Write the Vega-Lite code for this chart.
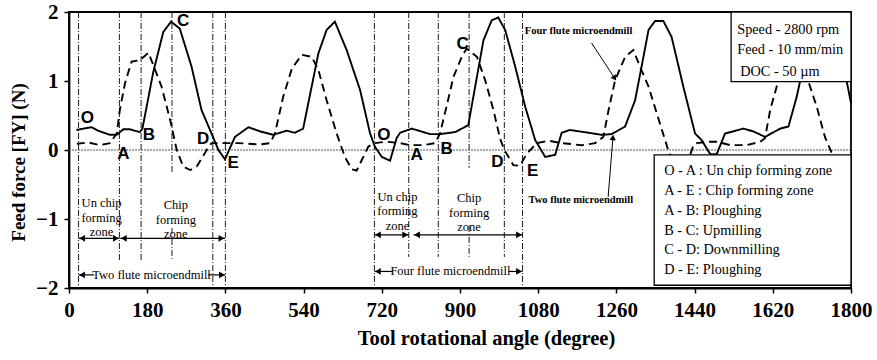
{
"$schema": "https://vega.github.io/schema/vega-lite/v6.json",
"width": 782, "height": 276,
"autosize": {"type": "none"},
"padding": {"left": 69, "top": 12, "right": 26, "bottom": 72},
"background": "white",
"config": {"font": "Liberation Serif", "view": {"stroke": "black", "strokeWidth": 1.8}},
"datasets": {
"curves": [
{"angle":17,"force":0.29,"tool":"Two flute"},{"angle":33,"force":0.31,"tool":"Two flute"},{"angle":52,"force":0.33,"tool":"Two flute"},{"angle":67,"force":0.28,"tool":"Two flute"},{"angle":94,"force":0.22,"tool":"Two flute"},{"angle":110,"force":0.22,"tool":"Two flute"},{"angle":125,"force":0.30,"tool":"Two flute"},{"angle":140,"force":0.30,"tool":"Two flute"},{"angle":163,"force":0.26,"tool":"Two flute"},{"angle":169,"force":0.31,"tool":"Two flute"},{"angle":194,"force":1.13,"tool":"Two flute"},{"angle":217,"force":1.71,"tool":"Two flute"},{"angle":235,"force":1.86,"tool":"Two flute"},{"angle":255,"force":1.76,"tool":"Two flute"},{"angle":282,"force":1.21,"tool":"Two flute"},{"angle":305,"force":0.58,"tool":"Two flute"},{"angle":328,"force":0.24,"tool":"Two flute"},{"angle":344,"force":0.0,"tool":"Two flute"},{"angle":359,"force":-0.135,"tool":"Two flute"},{"angle":382,"force":0.19,"tool":"Two flute"},{"angle":413,"force":0.33,"tool":"Two flute"},{"angle":440,"force":0.27,"tool":"Two flute"},{"angle":470,"force":0.22,"tool":"Two flute"},{"angle":501,"force":0.28,"tool":"Two flute"},{"angle":520,"force":0.25,"tool":"Two flute"},{"angle":539,"force":0.31,"tool":"Two flute"},{"angle":574,"force":1.40,"tool":"Two flute"},{"angle":593,"force":1.74,"tool":"Two flute"},{"angle":612,"force":1.86,"tool":"Two flute"},{"angle":639,"force":1.45,"tool":"Two flute"},{"angle":670,"force":0.87,"tool":"Two flute"},{"angle":693,"force":0.24,"tool":"Two flute"},{"angle":704,"force":0.05,"tool":"Two flute"},{"angle":720,"force":-0.1,"tool":"Two flute"},{"angle":739,"force":-0.155,"tool":"Two flute"},{"angle":754,"force":0.17,"tool":"Two flute"},{"angle":762,"force":0.25,"tool":"Two flute"},{"angle":789,"force":0.31,"tool":"Two flute"},{"angle":831,"force":0.23,"tool":"Two flute"},{"angle":854,"force":0.23,"tool":"Two flute"},{"angle":889,"force":0.26,"tool":"Two flute"},{"angle":919,"force":0.36,"tool":"Two flute"},{"angle":935,"force":0.92,"tool":"Two flute"},{"angle":954,"force":1.59,"tool":"Two flute"},{"angle":973,"force":1.88,"tool":"Two flute"},{"angle":988,"force":1.92,"tool":"Two flute"},{"angle":1004,"force":1.74,"tool":"Two flute"},{"angle":1027,"force":1.21,"tool":"Two flute"},{"angle":1050,"force":0.63,"tool":"Two flute"},{"angle":1073,"force":0.145,"tool":"Two flute"},{"angle":1096,"force":-0.1,"tool":"Two flute"},{"angle":1119,"force":-0.07,"tool":"Two flute"},{"angle":1134,"force":0.25,"tool":"Two flute"},{"angle":1153,"force":0.29,"tool":"Two flute"},{"angle":1196,"force":0.25,"tool":"Two flute"},{"angle":1226,"force":0.22,"tool":"Two flute"},{"angle":1249,"force":0.23,"tool":"Two flute"},{"angle":1280,"force":0.34,"tool":"Two flute"},{"angle":1303,"force":0.72,"tool":"Two flute"},{"angle":1318,"force":1.21,"tool":"Two flute"},{"angle":1334,"force":1.74,"tool":"Two flute"},{"angle":1349,"force":1.87,"tool":"Two flute"},{"angle":1368,"force":1.87,"tool":"Two flute"},{"angle":1387,"force":1.64,"tool":"Two flute"},{"angle":1414,"force":0.92,"tool":"Two flute"},{"angle":1441,"force":0.24,"tool":"Two flute"},{"angle":1456,"force":0.145,"tool":"Two flute"},{"angle":1476,"force":-0.06,"tool":"Two flute"},{"angle":1491,"force":-0.06,"tool":"Two flute"},{"angle":1510,"force":0.24,"tool":"Two flute"},{"angle":1529,"force":0.27,"tool":"Two flute"},{"angle":1552,"force":0.31,"tool":"Two flute"},{"angle":1575,"force":0.27,"tool":"Two flute"},{"angle":1602,"force":0.19,"tool":"Two flute"},{"angle":1637,"force":0.31,"tool":"Two flute"},{"angle":1656,"force":0.34,"tool":"Two flute"},{"angle":1675,"force":0.77,"tool":"Two flute"},{"angle":1700,"force":1.5,"tool":"Two flute"},{"angle":1725,"force":1.85,"tool":"Two flute"},{"angle":1750,"force":1.85,"tool":"Two flute"},{"angle":1772,"force":1.45,"tool":"Two flute"},{"angle":1790,"force":1.0,"tool":"Two flute"},{"angle":1800,"force":0.68,"tool":"Two flute"},
{"angle":18,"force":0.09,"tool":"Four flute"},{"angle":44,"force":0.11,"tool":"Four flute"},{"angle":71,"force":0.07,"tool":"Four flute"},{"angle":94,"force":0.10,"tool":"Four flute"},{"angle":110,"force":0.24,"tool":"Four flute"},{"angle":117,"force":0.58,"tool":"Four flute"},{"angle":129,"force":0.97,"tool":"Four flute"},{"angle":144,"force":1.28,"tool":"Four flute"},{"angle":163,"force":1.30,"tool":"Four flute"},{"angle":183,"force":1.41,"tool":"Four flute"},{"angle":194,"force":1.23,"tool":"Four flute"},{"angle":213,"force":0.92,"tool":"Four flute"},{"angle":233,"force":0.43,"tool":"Four flute"},{"angle":248,"force":0.0,"tool":"Four flute"},{"angle":263,"force":-0.24,"tool":"Four flute"},{"angle":279,"force":-0.29,"tool":"Four flute"},{"angle":294,"force":-0.24,"tool":"Four flute"},{"angle":317,"force":0.0,"tool":"Four flute"},{"angle":328,"force":0.1,"tool":"Four flute"},{"angle":351,"force":0.1,"tool":"Four flute"},{"angle":390,"force":0.1,"tool":"Four flute"},{"angle":440,"force":0.08,"tool":"Four flute"},{"angle":463,"force":0.1,"tool":"Four flute"},{"angle":474,"force":0.24,"tool":"Four flute"},{"angle":493,"force":0.77,"tool":"Four flute"},{"angle":513,"force":1.18,"tool":"Four flute"},{"angle":536,"force":1.38,"tool":"Four flute"},{"angle":559,"force":1.35,"tool":"Four flute"},{"angle":574,"force":1.16,"tool":"Four flute"},{"angle":593,"force":0.72,"tool":"Four flute"},{"angle":616,"force":0.24,"tool":"Four flute"},{"angle":635,"force":-0.1,"tool":"Four flute"},{"angle":651,"force":-0.28,"tool":"Four flute"},{"angle":662,"force":-0.3,"tool":"Four flute"},{"angle":674,"force":-0.145,"tool":"Four flute"},{"angle":689,"force":0.05,"tool":"Four flute"},{"angle":704,"force":0.1,"tool":"Four flute"},{"angle":731,"force":0.12,"tool":"Four flute"},{"angle":762,"force":0.1,"tool":"Four flute"},{"angle":785,"force":0.07,"tool":"Four flute"},{"angle":816,"force":0.07,"tool":"Four flute"},{"angle":843,"force":0.1,"tool":"Four flute"},{"angle":854,"force":0.24,"tool":"Four flute"},{"angle":869,"force":0.63,"tool":"Four flute"},{"angle":885,"force":1.06,"tool":"Four flute"},{"angle":904,"force":1.35,"tool":"Four flute"},{"angle":915,"force":1.47,"tool":"Four flute"},{"angle":939,"force":1.35,"tool":"Four flute"},{"angle":958,"force":1.01,"tool":"Four flute"},{"angle":977,"force":0.58,"tool":"Four flute"},{"angle":992,"force":0.17,"tool":"Four flute"},{"angle":1002,"force":0.0,"tool":"Four flute"},{"angle":1023,"force":-0.22,"tool":"Four flute"},{"angle":1038,"force":-0.23,"tool":"Four flute"},{"angle":1054,"force":-0.05,"tool":"Four flute"},{"angle":1077,"force":0.1,"tool":"Four flute"},{"angle":1103,"force":0.135,"tool":"Four flute"},{"angle":1134,"force":0.1,"tool":"Four flute"},{"angle":1180,"force":0.07,"tool":"Four flute"},{"angle":1211,"force":0.1,"tool":"Four flute"},{"angle":1230,"force":0.19,"tool":"Four flute"},{"angle":1242,"force":0.58,"tool":"Four flute"},{"angle":1257,"force":1.01,"tool":"Four flute"},{"angle":1280,"force":1.35,"tool":"Four flute"},{"angle":1299,"force":1.45,"tool":"Four flute"},{"angle":1314,"force":1.21,"tool":"Four flute"},{"angle":1334,"force":0.92,"tool":"Four flute"},{"angle":1353,"force":0.53,"tool":"Four flute"},{"angle":1372,"force":0.145,"tool":"Four flute"},{"angle":1382,"force":-0.06,"tool":"Four flute"},{"angle":1405,"force":-0.15,"tool":"Four flute"},{"angle":1427,"force":-0.12,"tool":"Four flute"},{"angle":1438,"force":0.08,"tool":"Four flute"},{"angle":1445,"force":0.1,"tool":"Four flute"},{"angle":1472,"force":0.12,"tool":"Four flute"},{"angle":1491,"force":0.12,"tool":"Four flute"},{"angle":1522,"force":0.07,"tool":"Four flute"},{"angle":1560,"force":0.07,"tool":"Four flute"},{"angle":1591,"force":0.12,"tool":"Four flute"},{"angle":1602,"force":0.17,"tool":"Four flute"},{"angle":1614,"force":0.58,"tool":"Four flute"},{"angle":1629,"force":0.92,"tool":"Four flute"},{"angle":1650,"force":1.3,"tool":"Four flute"},{"angle":1668,"force":1.38,"tool":"Four flute"},{"angle":1685,"force":1.3,"tool":"Four flute"},{"angle":1702,"force":0.99,"tool":"Four flute"},{"angle":1721,"force":0.63,"tool":"Four flute"},{"angle":1740,"force":0.19,"tool":"Four flute"},{"angle":1756,"force":-0.05,"tool":"Four flute"},{"angle":1770,"force":-0.2,"tool":"Four flute"}
],
"zero": [{"angle":0,"angle2":1800,"force":0}],
"vlines": [
{"angle":22,"force":2,"force2":-2},{"angle":116,"force":2,"force2":-1.6},{"angle":166,"force":2,"force2":-1.6},{"angle":237,"force":2,"force2":-0.33},{"angle":237,"force":-1.13,"force2":-1.6},{"angle":331,"force":2,"force2":-2},{"angle":360,"force":2,"force2":-2},
{"angle":703,"force":2,"force2":-2},{"angle":782,"force":2,"force2":-1.55},{"angle":850,"force":2,"force2":-1.55},{"angle":921,"force":2,"force2":-0.26},{"angle":921,"force":-1.1,"force2":-1.55},{"angle":1002,"force":2,"force2":-1.55},{"angle":1044,"force":2,"force2":-2}
],
"harrows": [
{"angle":22,"angle2":116,"force":-1.28},{"angle":118,"angle2":359,"force":-1.28},{"angle":22,"angle2":58,"force":-1.81},{"angle":320,"angle2":360,"force":-1.81},
{"angle":703,"angle2":782,"force":-1.23},{"angle":793,"angle2":1044,"force":-1.23},{"angle":703,"angle2":746,"force":-1.76},{"angle":1012,"angle2":1044,"force":-1.76}
],
"heads": [
{"angle":22,"force":-1.28,"dir":"left"},{"angle":116,"force":-1.28,"dir":"right"},{"angle":118,"force":-1.28,"dir":"left"},{"angle":359,"force":-1.28,"dir":"right"},{"angle":22,"force":-1.81,"dir":"left"},{"angle":360,"force":-1.81,"dir":"right"},
{"angle":703,"force":-1.23,"dir":"left"},{"angle":782,"force":-1.23,"dir":"right"},{"angle":793,"force":-1.23,"dir":"left"},{"angle":1044,"force":-1.23,"dir":"right"},{"angle":703,"force":-1.76,"dir":"left"},{"angle":1044,"force":-1.76,"dir":"right"}
],
"zoneText": [
{"angle":75,"force":-0.77,"label":"Un chip\nforming\nzone"},{"angle":246,"force":-0.8,"label":"Chip\nforming\nzone"},
{"angle":756,"force":-0.68,"label":"Un chip\nforming\nzone"},{"angle":921,"force":-0.7,"label":"Chip\nforming\nzone"}
],
"bottomText": [
{"angle":190,"force":-1.81,"label":"Two flute microendmill"},{"angle":878,"force":-1.76,"label":"Four flute microendmill"}
],
"letters": [
{"angle":42,"force":0.46,"label":"O"},{"angle":125,"force":-0.06,"label":"A"},{"angle":184,"force":0.22,"label":"B"},{"angle":263,"force":1.87,"label":"C"},{"angle":309,"force":0.155,"label":"D"},{"angle":378,"force":-0.19,"label":"E"},
{"angle":725,"force":0.22,"label":"O"},{"angle":800,"force":-0.07,"label":"A"},{"angle":869,"force":0.01,"label":"B"},{"angle":906,"force":1.53,"label":"C"},{"angle":986,"force":-0.17,"label":"D"},{"angle":1067,"force":-0.3,"label":"E"}
],
"boxes": [
{"angle":1524,"angle2":1800,"force":2,"force2":0.99},{"angle":1347,"angle2":1800,"force":-0.07,"force2":-1.96}
],
"boxText": [
{"angle":1538,"force":1.74,"label":"Speed - 2800 rpm"},{"angle":1538,"force":1.45,"label":"Feed - 10 mm/min"},{"angle":1545,"force":1.13,"label":"DOC - 50 µm"},
{"angle":1370,"force":-0.31,"label":"O - A : Un chip forming zone"},{"angle":1370,"force":-0.60,"label":"A - E : Chip forming zone"},{"angle":1370,"force":-0.89,"label":"A - B: Ploughing"},{"angle":1370,"force":-1.17,"label":"B - C: Upmilling"},{"angle":1370,"force":-1.45,"label":"C - D: Downmilling"},{"angle":1370,"force":-1.74,"label":"D - E: Ploughing"}
],
"notes": [
{"angle":1173,"force":1.73,"label":"Four flute microendmill"},{"angle":1178,"force":-0.72,"label":"Two flute microendmill"}
],
"pointers": [
{"angle":1203,"force":1.55,"angle2":1256,"force2":1.04},{"angle":1241,"force":-0.68,"angle2":1252,"force2":0.18}
],
"pointerHeads": [
{"angle":1256,"force":1.04,"which":"four"},{"angle":1252,"force":0.18,"which":"two"}
]
},
"encoding": {
"x": {"field":"angle","type":"quantitative","scale":{"domain":[0,1800],"nice":false,"zero":false},
 "axis":{"values":[0,180,360,540,720,900,1080,1260,1440,1620,1800],"format":"d","grid":false,"title":"Tool rotational angle (degree)","labelFont":"Liberation Serif","labelFontWeight":"bold","labelFontSize":21,"labelColor":"black","labelPadding":6,"domainColor":"black","domainWidth":1.8,"tickColor":"black","tickSize":5,"tickWidth":1.5,"titleFont":"Liberation Serif","titleFontWeight":"bold","titleFontSize":20.5,"titleColor":"black","titleX":417,"titlePadding":8,"labelFlush":false,"labelOverlap":false}},
"y": {"field":"force","type":"quantitative","scale":{"domain":[-2,2],"nice":false,"zero":false},
 "axis":{"values":[-2,-1,0,1,2],"format":"d","grid":false,"title":"Feed force [FY] (N)","labelFont":"Liberation Serif","labelFontWeight":"bold","labelFontSize":21,"labelColor":"black","labelPadding":6,"domainColor":"black","domainWidth":1.8,"tickColor":"black","tickSize":5,"tickWidth":1.5,"titleFont":"Liberation Serif","titleFontWeight":"bold","titleFontSize":19,"titleColor":"black","titleAngle":270,"titleX":-51,"titleY":150,"titleAlign":"center","titleBaseline":"middle","labelFlush":false,"labelOverlap":false}}
},
"layer": [
{"data":{"name":"zero"},"mark":{"type":"rule","color":"#555","strokeWidth":1,"strokeDash":[2,1]},"encoding":{"x2":{"field":"angle2"}}},
{"data":{"name":"vlines"},"mark":{"type":"rule","color":"black","strokeWidth":0.9,"strokeDash":[6,2,1,2]},"encoding":{"y2":{"field":"force2"}}},
{"data":{"name":"curves"},"mark":{"type":"line","color":"black","strokeWidth":1.9},"encoding":{"detail":{"field":"tool"},"strokeDash":{"field":"tool","type":"nominal","scale":{"domain":["Two flute","Four flute"],"range":[[1,0],[8,5]]},"legend":null}}},
{"data":{"name":"harrows"},"mark":{"type":"rule","color":"black","strokeWidth":1.2},"encoding":{"x2":{"field":"angle2"}}},
{"data":{"name":"heads"},"transform":[{"filter":"datum.dir === 'left'"}],"mark":{"type":"point","shape":"triangle-left","filled":true,"color":"black","size":45,"opacity":1,"xOffset":3.5}},
{"data":{"name":"heads"},"transform":[{"filter":"datum.dir === 'right'"}],"mark":{"type":"point","shape":"triangle-right","filled":true,"color":"black","size":45,"opacity":1,"xOffset":-3.5}},
{"data":{"name":"zoneText"},"mark":{"type":"text","font":"Liberation Serif","fontSize":12.5,"lineBreak":"\n","lineHeight":14.5,"align":"center","baseline":"middle","color":"black"},"encoding":{"text":{"field":"label"}}},
{"data":{"name":"bottomText"},"mark":{"type":"text","font":"Liberation Serif","fontSize":12.5,"align":"center","baseline":"middle","color":"black"},"encoding":{"text":{"field":"label"}}},
{"data":{"name":"letters"},"mark":{"type":"text","font":"Liberation Sans","fontWeight":"bold","fontSize":17,"align":"center","baseline":"middle","color":"black"},"encoding":{"text":{"field":"label"}}},
{"data":{"name":"notes"},"mark":{"type":"text","font":"Liberation Serif","fontWeight":"bold","fontSize":10.5,"align":"center","baseline":"middle","color":"black"},"encoding":{"text":{"field":"label"}}},
{"data":{"name":"pointers"},"mark":{"type":"rule","color":"black","strokeWidth":1},"encoding":{"x2":{"field":"angle2"},"y2":{"field":"force2"}}},
{"data":{"name":"pointerHeads"},"transform":[{"filter":"datum.which === 'four'"}],"mark":{"type":"point","shape":"triangle-up","filled":true,"color":"black","size":40,"opacity":1,"angle":147}},
{"data":{"name":"pointerHeads"},"transform":[{"filter":"datum.which === 'two'"}],"mark":{"type":"point","shape":"triangle-up","filled":true,"color":"black","size":40,"opacity":1,"angle":4}},
{"data":{"name":"boxes"},"mark":{"type":"rect","fill":"white","stroke":"black","strokeWidth":1.3},"encoding":{"x2":{"field":"angle2"},"y2":{"field":"force2"}}},
{"data":{"name":"boxText"},"mark":{"type":"text","font":"Liberation Serif","fontSize":14.3,"align":"left","baseline":"middle","color":"black"},"encoding":{"text":{"field":"label"}}}
]
}
